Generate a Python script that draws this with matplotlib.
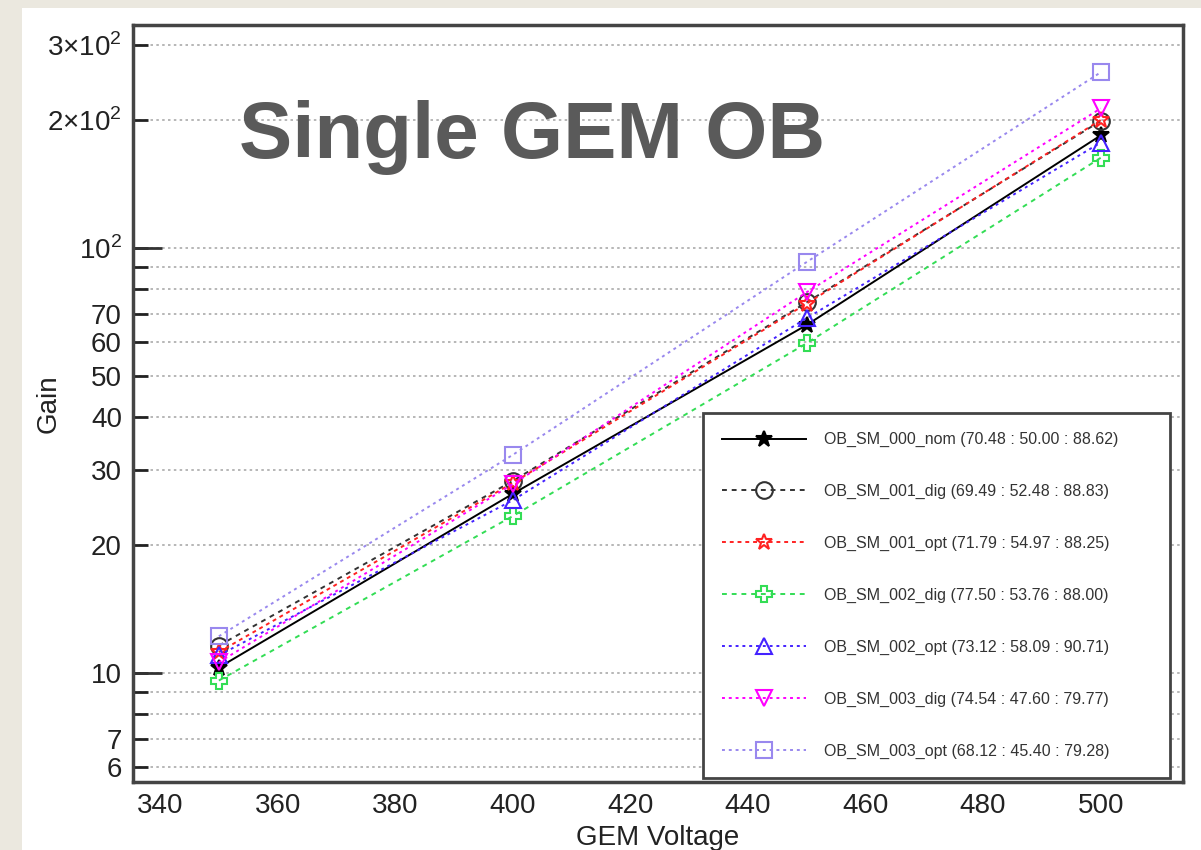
import matplotlib
matplotlib.use("Agg")
import matplotlib.pyplot as plt
from matplotlib.patches import Rectangle
from matplotlib.ticker import FixedLocator, FixedFormatter, NullFormatter

# GEM voltage scan points
voltage = [350, 400, 450, 500]

# gain per sample
gain_000_nom = [10.3, 26.4, 65.9, 184]
gain_001_dig = [11.6, 28.3, 74.5, 199]
gain_001_opt = [11.2, 28.0, 74.0, 200]
gain_002_dig = [9.6, 23.4, 59.7, 163]
gain_002_opt = [11.0, 25.5, 68.4, 177]
gain_003_dig = [10.6, 27.8, 78.7, 213]
gain_003_opt = [12.2, 32.6, 92.7, 259]

labels = [
    "OB_SM_000_nom (70.48 : 50.00 : 88.62)",
    "OB_SM_001_dig (69.49 : 52.48 : 88.83)",
    "OB_SM_001_opt (71.79 : 54.97 : 88.25)",
    "OB_SM_002_dig (77.50 : 53.76 : 88.00)",
    "OB_SM_002_opt (73.12 : 58.09 : 90.71)",
    "OB_SM_003_dig (74.54 : 47.60 : 79.77)",
    "OB_SM_003_opt (68.12 : 45.40 : 79.28)",
]

ytick_vals = [6, 7, 8, 9, 10, 20, 30, 40, 50, 60, 70, 80, 90, 100, 200, 300]
ytick_text = ["6", "7", "", "", "10", "20", "30", "40", "50", "60", "70", "", "",
              r"$10^2$", r"$2{\times}10^2$", r"$3{\times}10^2$"]
decades = [10, 100]
xticks = [340, 360, 380, 400, 420, 440, 460, 480, 500]

plt.rcParams['font.family'] = ['Liberation Sans', 'DejaVu Sans']
plt.rcParams['mathtext.fontset'] = 'custom'
plt.rcParams['mathtext.rm'] = 'Liberation Sans'

fig = plt.figure(figsize=(12.01, 8.5), dpi=100)
fig.patch.set_facecolor('#ebe8df')
# white slide panel behind the axes
fig.patches.append(Rectangle((22 / 1201, 0), 1 - 22 / 1201, 1 - 8 / 850,
                             transform=fig.transFigure, facecolor='white',
                             edgecolor='none', zorder=-10))

ax = fig.add_axes([133 / 1201, 1 - 782 / 850, 1050 / 1201, 757 / 850])
ax.set_zorder(5)

series = [
    (gain_000_nom, 'black', '-', '*', 'black'),
    (gain_001_dig, '#333333', (0, (2.5, 2.5)), 'o', 'none'),
    (gain_001_opt, '#ff2222', (0, (2, 2)), '*', 'none'),
    (gain_002_dig, '#33dd55', (0, (2.5, 2.5)), 'P', 'none'),
    (gain_002_opt, '#4422ff', (0, (1.5, 2)), '^', 'none'),
    (gain_003_dig, '#ff00ff', (0, (1.5, 2)), 'v', 'none'),
    (gain_003_opt, '#9988ee', (0, (1.5, 2)), 's', 'none'),
]
for (g, c, ls, m, fc), lab in zip(series, labels):
    ax.plot(voltage, g, color=c, linestyle=ls, linewidth=1.4, marker=m,
            markersize=12, markerfacecolor=fc, markeredgecolor=c,
            markeredgewidth=1.5, label=lab)

ax.set_yscale('log')
ax.set_xlim(335.4, 514)
ax.set_ylim(5.54, 334.7)
ax.yaxis.set_major_locator(FixedLocator(ytick_vals))
ax.yaxis.set_major_formatter(FixedFormatter(ytick_text))
ax.yaxis.set_minor_locator(FixedLocator(decades))
ax.yaxis.set_minor_formatter(NullFormatter())
ax.yaxis.remove_overlapping_locs = False
ax.set_xticks(xticks)
ax.tick_params(axis='both', labelsize=20, colors='#222222', direction='in',
               length=11, width=2, pad=8)
ax.tick_params(axis='y', which='minor', direction='in', length=21, width=2,
               color='#333333')
ax.tick_params(axis='x', length=0)
ax.grid(axis='y', which='major', color='#aaaaaa', linestyle=(0, (1.5, 2)),
        linewidth=1.2)
for s in ax.spines.values():
    s.set_linewidth(2.5)
    s.set_color('#444444')

ax.set_xlabel('GEM Voltage', fontsize=20, color='#222222', labelpad=4)
ax.set_ylabel('Gain', fontsize=20, color='#222222')
ax.yaxis.set_label_coords(-0.0676, 0.5)

ax.text(0.101, 0.824, 'Single GEM OB', transform=ax.transAxes, fontsize=57.5,
        fontweight='bold', color='#5a5a5a', va='baseline', ha='left')

# legend box fixed to the lower right area
leg = ax.legend(loc='upper left', bbox_to_anchor=(0.5429, 0.0, 0.4448, 0.4875),
                mode='expand', borderaxespad=0, fontsize=11.5,
                labelspacing=2.3, handlelength=5.25, handletextpad=1.1,
                borderpad=1.2, fancybox=False, framealpha=1)
leg.get_frame().set_edgecolor('#444444')
leg.get_frame().set_linewidth(2)
for t in leg.get_texts():
    t.set_color('#333333')

fig.savefig('out.png', dpi=100, facecolor=fig.get_facecolor())
